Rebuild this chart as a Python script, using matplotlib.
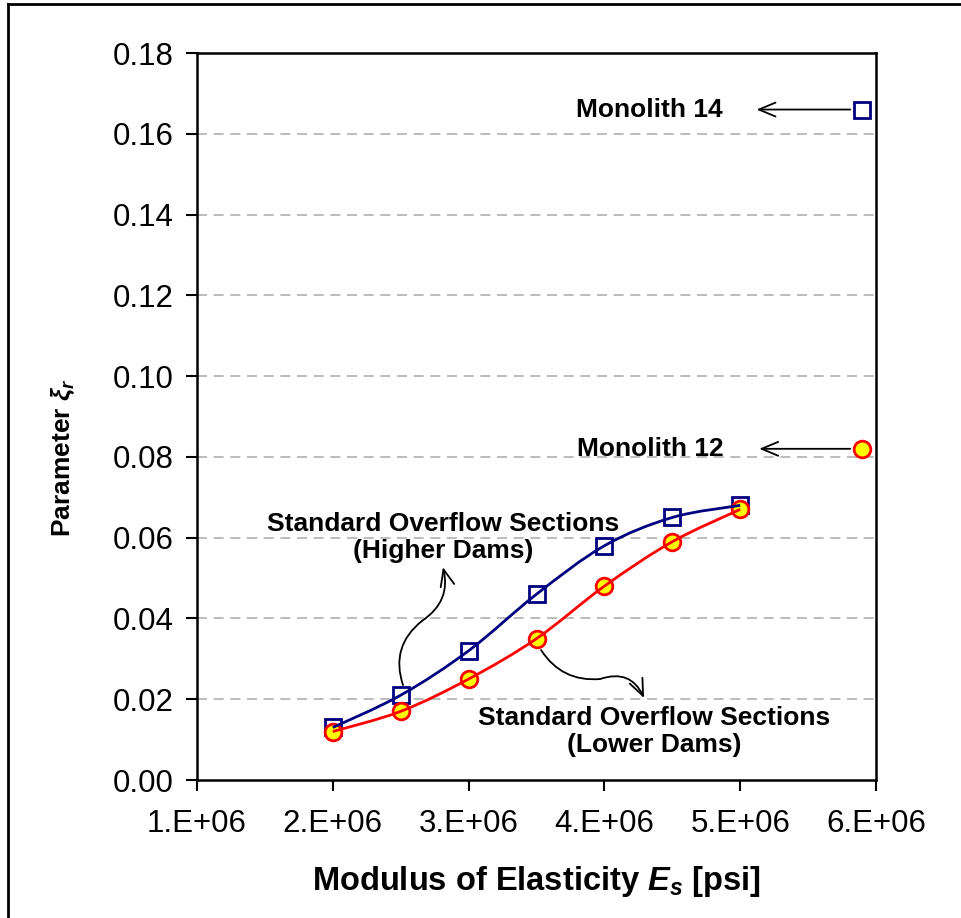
import numpy as np
import matplotlib
matplotlib.use('Agg')
import matplotlib.pyplot as plt
from matplotlib.path import Path
from matplotlib.patches import PathPatch
from matplotlib.lines import Line2D

plt.rcParams['font.family'] = ['Liberation Sans', 'DejaVu Sans']
plt.rcParams['mathtext.fontset'] = 'custom'
plt.rcParams['mathtext.it'] = 'Liberation Sans:bold:italic'
plt.rcParams['mathtext.bf'] = 'Liberation Sans:bold'
plt.rcParams['mathtext.rm'] = 'Liberation Sans'

# data
modulus = [2.0e6, 2.5e6, 3.0e6, 3.5e6, 4.0e6, 4.5e6, 5.0e6]
xi_higher = [0.013, 0.021, 0.032, 0.046, 0.058, 0.065, 0.068]
xi_lower = [0.012, 0.017, 0.025, 0.035, 0.048, 0.059, 0.067]
mono_x = 5.9e6
mono14_xi = 0.166
mono12_xi = 0.082
x_ticks = [1e6, 2e6, 3e6, 4e6, 5e6, 6e6]
x_tick_labels = ['1.E+06', '2.E+06', '3.E+06', '4.E+06', '5.E+06', '6.E+06']
y_ticks = [0.00, 0.02, 0.04, 0.06, 0.08, 0.10, 0.12, 0.14, 0.16, 0.18]

BLUE = '#000080'
RED = '#ff0000'


def smooth_path(ax, xs, ys):
    # Excel-like smoothed line: Catmull-Rom turned into cubic beziers in display space
    pts = ax.transData.transform(np.column_stack([xs, ys]))
    verts = [pts[0]]
    codes = [Path.MOVETO]
    n = len(pts)
    for i in range(n - 1):
        p0 = pts[i - 1] if i > 0 else pts[i]
        p1 = pts[i]
        p2 = pts[i + 1]
        p3 = pts[i + 2] if i + 2 < n else pts[i + 1]
        c1 = p1 + (p2 - p0) / 6.0
        c2 = p2 - (p3 - p1) / 6.0
        verts += [c1, c2, p2]
        codes += [Path.CURVE4] * 3
    return Path(verts, codes)


def curved(ax, start, end, rad, head=False):
    style = '->,head_length=0.6,head_width=0.25' if head else '-'
    ax.annotate('', xy=end, xytext=start,
                arrowprops=dict(arrowstyle=style, color='black', lw=1.3, mutation_scale=20,
                                shrinkA=0, shrinkB=0,
                                connectionstyle='arc3,rad=%s' % rad))


fig = plt.figure(figsize=(9.61, 9.18), dpi=100)
ax = fig.add_axes([197 / 961, 1 - 780 / 918, (876 - 197) / 961, (780 - 53) / 918])

ax.set_xlim(1e6, 6e6)
ax.set_ylim(0, 0.18)
ax.set_xticks(x_ticks)
ax.set_xticklabels(x_tick_labels)
ax.set_yticks(y_ticks)
ax.set_yticklabels(['%.2f' % v for v in y_ticks])
ax.tick_params(axis='both', direction='out', length=8, width=1.5, labelsize=22.5, pad=9)
ax.tick_params(axis='x', pad=13)
for s in ax.spines.values():
    s.set_linewidth(1.8)
    s.set_color('black')

for v in y_ticks[1:-1]:
    ax.axhline(v, color='#b0b0b0', lw=1.2, ls=(0, (6, 4)), zorder=1)

fig.canvas.draw()

# smoothed curves
for ys, col in [(xi_higher, BLUE), (xi_lower, RED)]:
    p = smooth_path(ax, modulus, ys)
    patch = PathPatch(p, transform=None, fc='none', ec=col, lw=2, zorder=3)
    fig.add_artist(patch)

mk = dict(ls='none', ms=12, mew=2, clip_on=False)
ax.plot(modulus, xi_higher, marker='s', mfc='white', mec=BLUE, zorder=4, **mk)
ax.plot(modulus, xi_lower, marker='o', mfc='#ffff00', mec=RED, zorder=5, **mk)
ax.plot([mono_x], [mono14_xi], marker='s', mfc='white', mec=BLUE, zorder=4, **mk)
ax.plot([mono_x], [mono12_xi], marker='o', mfc='#ffff00', mec=RED, zorder=5, **mk)

ax.set_xlabel(r'Modulus of Elasticity $E_s$ [psi]', fontsize=23.5, fontweight='bold')
ax.xaxis.set_label_coords(0.5, -0.115)
ax.set_ylabel(r'Parameter $\xi_r$', fontsize=19, fontweight='bold')
ax.yaxis.set_label_coords(-0.176, 0.443)

# annotations
tkw = dict(fontsize=19, fontweight='bold', ha='center', va='center')
ax.text(4.33e6, mono14_xi, 'Monolith 14', **tkw)
ax.text(4.34e6, mono12_xi, 'Monolith 12', **tkw)
curved(ax, (5.81e6, mono14_xi), (5.12e6, mono14_xi), 0, head=True)
curved(ax, (5.81e6, mono12_xi), (5.14e6, mono12_xi), 0, head=True)

ax.text(2.81e6, 0.0601, 'Standard Overflow Sections\n(Higher Dams)', linespacing=1.15, **tkw)
ax.text(4.365e6, 0.0121, 'Standard Overflow Sections\n(Lower Dams)', linespacing=1.15, **tkw)

# S-shaped pointer to the upper curve
curved(ax, (2.517e6, 0.0235), (2.657e6, 0.0394), -0.35)
curved(ax, (2.657e6, 0.0394), (2.811e6, 0.0527), 0.35, head=True)
# S-shaped pointer to the lower curve
curved(ax, (3.533e6, 0.0322), (3.968e6, 0.0250), 0.3)
curved(ax, (3.968e6, 0.0250), (4.292e6, 0.0203), -0.45, head=True)

# outer frame (top and left edges visible)
fig.add_artist(Line2D([8 / 961, 8 / 961], [0, 1 - 4 / 918], transform=fig.transFigure, color='black', lw=2))
fig.add_artist(Line2D([8 / 961, 1], [1 - 4 / 918, 1 - 4 / 918], transform=fig.transFigure, color='black', lw=2))

fig.savefig('out.png', dpi=100)
